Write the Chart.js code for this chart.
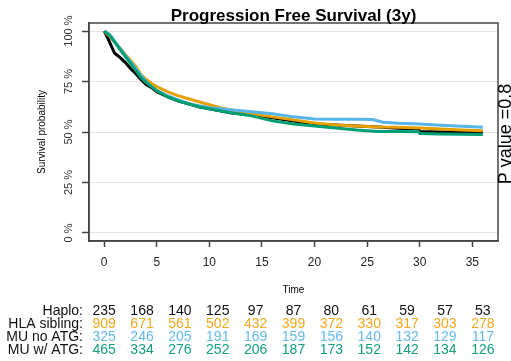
<!DOCTYPE html>
<html>
<head>
<meta charset="utf-8">
<script src="https://cdn.jsdelivr.net/npm/chart.js@4/dist/chart.umd.min.js"></script>
<style>
  html, body { margin: 0; padding: 0; background: #fff; }
  #wrap { width: 511px; height: 361px; }
</style>
</head>
<body>
<div id="wrap"><canvas id="pfs" width="511" height="361"></canvas></div>
<script>
/* Kaplan-Meier: Progression Free Survival (3y) */

const TITLE = 'Progression Free Survival (3y)';
const Y_TICKS = [0, 25, 50, 75, 100];
const X_TICKS = [0, 5, 10, 15, 20, 25, 30, 35];

// curves: time (months) / survival (%)
const hapTime = [0, 0.3, 0.6, 1.0, 1.5, 2.0, 2.5, 3.0, 3.5, 4.0, 4.5, 5.0, 6.0, 7.0, 8.0, 9.0, 10, 11, 12, 13, 14, 16, 18, 20, 22, 24, 26, 28, 29.9, 30, 32, 34, 36];
const hapSurv = [100, 97, 93.5, 89, 87, 84.5, 81.5, 79, 76, 73.5, 72, 70, 67.5, 65.5, 64, 62.5, 61.5, 60.5, 59.5, 59, 58.5, 57, 55.5, 54, 53.5, 53, 52.5, 51.8, 51.6, 50.3, 50, 49.8, 49.7];

const sibTime = [0, 0.5, 1, 1.5, 2, 2.5, 3, 3.5, 4, 4.5, 5, 6, 7, 8, 9, 10, 11, 12, 13, 14, 16, 18, 20, 22, 24, 26, 28, 30, 32, 34, 36];
const sibSurv = [100, 97.5, 94.5, 91.5, 88.5, 85.5, 82.5, 78.5, 76, 74, 72.5, 70, 68, 66.5, 65, 63.5, 62, 61, 60, 59, 57.5, 56, 54.5, 53.5, 53, 52.5, 52.3, 52, 51.5, 51, 50.6];

const muTime = [0, 0.5, 1, 1.5, 2, 2.5, 3, 3.5, 4, 4.5, 5, 6, 7, 8, 9, 10, 11, 12, 13, 14, 16, 18, 20, 22, 24, 25.5, 26.5, 28, 30, 32, 34, 36];
const muSurv = [100, 98.5, 95, 91.5, 88, 85, 81.5, 78, 75, 72.5, 70.5, 68, 66, 64, 63, 62, 61.5, 61, 60.5, 60, 59, 57.5, 56.5, 56.3, 56.3, 56.2, 54.8, 54.3, 54, 53.3, 52.8, 52.3];

const atgTime = [0, 0.5, 1, 1.5, 2, 2.5, 3, 3.5, 4, 4.5, 5, 6, 7, 8, 9, 10, 11, 12, 13, 14, 16, 18, 20, 22, 24, 26, 28, 29.9, 30, 32, 34, 36];
const atgSurv = [100, 98, 94.5, 91, 87.5, 84, 80.5, 77, 74.5, 72.5, 70.5, 67.5, 65.5, 64, 62.5, 61.5, 60.5, 59.5, 58.8, 58, 55.5, 54, 53, 52, 51, 50.3, 50.2, 50.1, 49.2, 49, 48.9, 48.8];

// numbers at risk
const riskTimes   = [0, 3.6, 7.2, 10.8, 14.4, 18, 21.6, 25.2, 28.8, 32.4, 36];
const riskHaplo   = [235, 168, 140, 125, 97, 87, 80, 61, 59, 57, 53];
const riskSibling = [909, 671, 561, 502, 432, 399, 372, 330, 317, 303, 278];
const riskMuNoAtg = [325, 246, 205, 191, 169, 159, 156, 140, 132, 129, 117];
const riskMuAtg   = [465, 334, 276, 252, 206, 187, 173, 152, 142, 134, 126];

const GROUPS = ['Haplo:', 'HLA sibling:', 'MU no ATG:', 'MU w/ ATG:'];
const COLORS = ['#000000', '#E69F00', '#56B4E9', '#009E73'];
const TEXT_COLORS = ['#111111', '#F0A81E', '#62BBEC', '#15A07A'];
const FONT = '"Liberation Sans", Arial, Helvetica, sans-serif';

const pts = (t, s) => t.map((v, i) => ({ x: v, y: s[i] }));

function curve(label, t, s, color, order) {
  return { label, data: pts(t, s), borderColor: color, backgroundColor: color,
    borderWidth: 3, pointRadius: 0, tension: 0, fill: false, order };
}

/* texts, box and risk table */
const decor = {
  id: 'decor',
  afterDraw(chart) {
    const { ctx, chartArea: a, scales: { x, y } } = chart;
    ctx.save();
    ctx.strokeStyle = '#444';
    ctx.lineWidth = 1.5;
    ctx.strokeRect(a.left, a.top, a.right - a.left, a.bottom - a.top);

    ctx.fillStyle = '#000';
    ctx.textAlign = 'center';
    ctx.textBaseline = 'alphabetic';
    ctx.font = 'bold 17px ' + FONT;
    ctx.fillText(TITLE, (a.left + a.right) / 2, 21);

    // rotated y tick labels
    ctx.fillStyle = '#333';
    ctx.font = '11px ' + FONT;
    ctx.textBaseline = 'middle';
    Y_TICKS.forEach(v => {
      ctx.save();
      ctx.translate(69, y.getPixelForValue(v));
      ctx.rotate(-Math.PI / 2);
      ctx.fillText(v + ' %', 0, 0);
      ctx.restore();
    });

    ctx.fillStyle = '#000';
    ctx.font = '10px ' + FONT;
    ctx.save();
    ctx.translate(42, (a.top + a.bottom) / 2);
    ctx.rotate(-Math.PI / 2);
    ctx.fillText('Survival probability', 0, 0);
    ctx.restore();

    ctx.fillText('Time', (a.left + a.right) / 2, 290);

    // p value on the right edge
    ctx.font = '18px ' + FONT;
    ctx.textBaseline = 'alphabetic';
    ctx.save();
    ctx.translate(511, (a.top + a.bottom) / 2 + 2);
    ctx.rotate(-Math.PI / 2);
    ctx.fillText('P value =0.8', 0, 0);
    ctx.restore();

    // risk table
    const rows = [riskHaplo, riskSibling, riskMuNoAtg, riskMuAtg];
    ctx.font = '14px ' + FONT;
    ctx.textBaseline = 'middle';
    rows.forEach((row, r) => {
      const py = 311 + r * 13.2;
      ctx.fillStyle = '#111';
      ctx.textAlign = 'right';
      ctx.fillText(GROUPS[r], 83, py);
      ctx.fillStyle = TEXT_COLORS[r];
      ctx.textAlign = 'center';
      row.forEach((n, i) => ctx.fillText(String(n), x.getPixelForValue(riskTimes[i]), py));
    });
    ctx.restore();
  }
};

new Chart(document.getElementById('pfs'), {
  type: 'line',
  data: {
    datasets: [
      curve('Haplo', hapTime, hapSurv, COLORS[0], 4),
      curve('HLA sibling', sibTime, sibSurv, COLORS[1], 3),
      curve('MU no ATG', muTime, muSurv, COLORS[2], 2),
      curve('MU w/ ATG', atgTime, atgSurv, COLORS[3], 1)
    ]
  },
  options: {
    responsive: false,
    animation: false,
    devicePixelRatio: 1,
    layout: { padding: { top: 23, right: 13, left: 0, bottom: 0 } },
    plugins: { legend: { display: false }, tooltip: { enabled: false } },
    scales: {
      x: {
        type: 'linear', min: -1.44, max: 37.44,
        afterBuildTicks: s => { s.ticks = X_TICKS.map(v => ({ value: v })); },
        afterFit: s => { s.height = 120; },
        grid: { drawOnChartArea: false, drawTicks: true, tickLength: 6, tickColor: '#444', tickWidth: 1.5 },
        border: { display: true, color: '#444', width: 1.5 },
        ticks: { color: '#222', font: { family: FONT, size: 12 }, padding: 8, maxRotation: 0 }
      },
      y: {
        type: 'linear', min: -4, max: 104,
        afterBuildTicks: s => { s.ticks = Y_TICKS.map(v => ({ value: v })); },
        afterFit: s => { s.width = 89; },
        grid: { color: '#e4e4e4', lineWidth: 1, drawTicks: true, tickLength: 7, tickColor: '#444', tickWidth: 1.5 },
        border: { display: true, color: '#444', width: 1.5 },
        ticks: { display: false }
      }
    }
  },
  plugins: [decor]
});
</script>
</body>
</html>
